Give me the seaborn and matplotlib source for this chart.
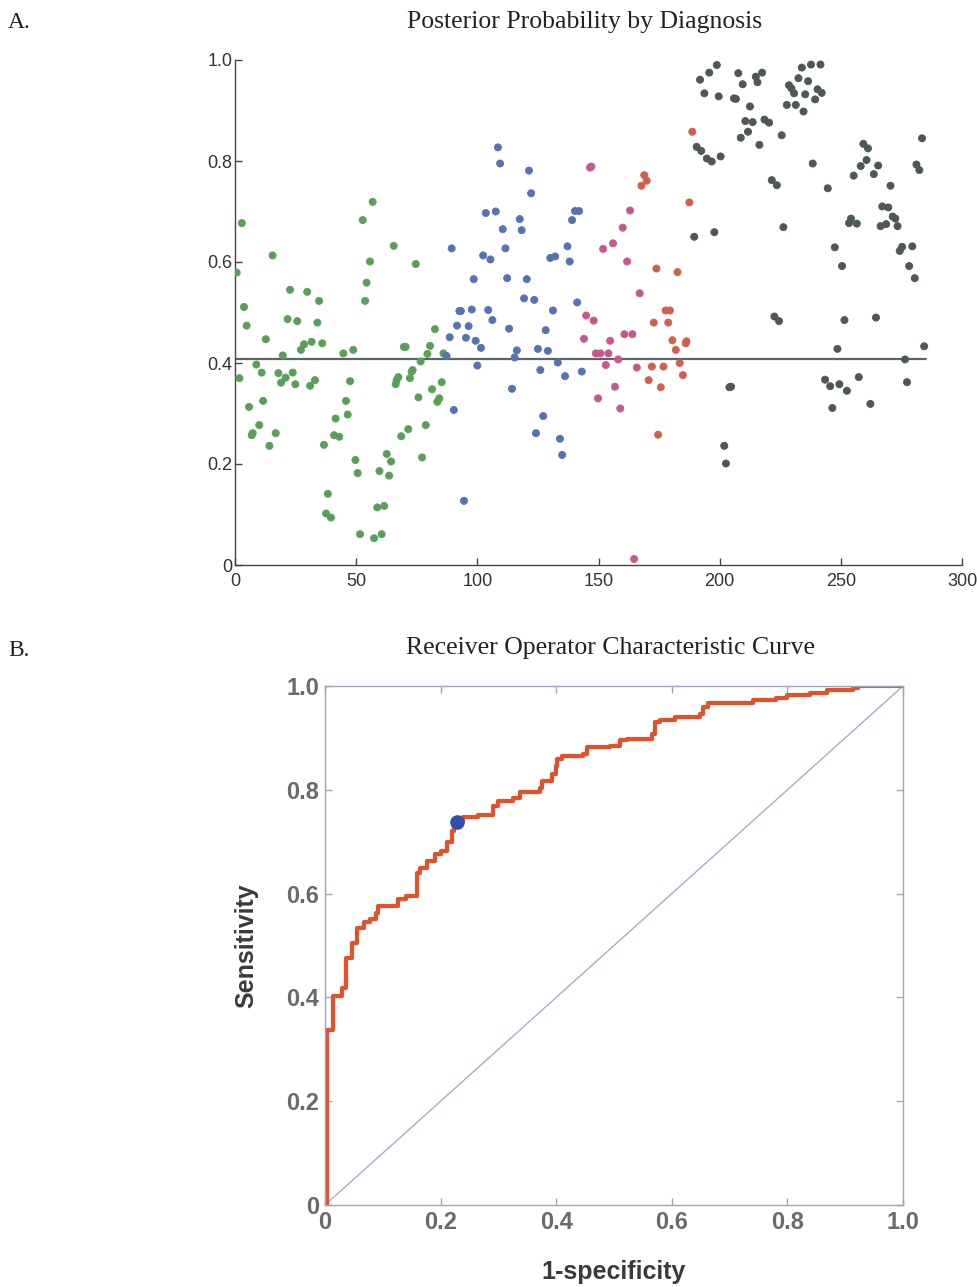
import numpy as np
import pandas as pd
import matplotlib
matplotlib.use("Agg")
import matplotlib.pyplot as plt
import seaborn as sns

# ---------------- Panel A data (patient index, posterior probability) ----------------
green_x = [2.8, 0.7, 15.5, 3.7, 4.8, 12.7, 22.7, 29.8, 34.7, 21.7, 25.7, 34, 31.6, 28.5, 27.2, 36, 19.7,
           1.8, 8.8, 11, 17.9, 19, 20.9, 23.8, 24.9, 31, 33, 5.8, 11.6, 10, 7.3, 6.9, 16.8, 14.2, 36.7,
           41.5, 45.8, 46.5, 47.5, 44.7, 48.8, 40.9, 43, 38.3, 37.6, 39.6, 49.7, 50.6, 51.6, 57.4, 60.5,
           58.7, 61.6, 59.6, 63.6, 62.6, 64.4, 56.8, 52.7, 55.7, 54.3, 53.7, 65.5, 74.6, 69.7, 70.4,
           66.7, 67.4, 66.3, 72.9, 73.3, 72.2, 76.6, 79.4, 80.5, 82.5, 86, 85.3, 81.3, 84.3, 83.5, 75.7,
           71.5, 68.6, 78.7, 77.2]
green_y = [0.677, 0.579, 0.613, 0.511, 0.474, 0.447, 0.545, 0.541, 0.523, 0.487, 0.483, 0.48, 0.442,
           0.437, 0.426, 0.439, 0.415, 0.370, 0.397, 0.381, 0.380, 0.361, 0.371, 0.381, 0.358, 0.355,
           0.366, 0.313, 0.325, 0.277, 0.261, 0.257, 0.261, 0.236, 0.238, 0.290, 0.325, 0.298, 0.364,
           0.419, 0.426, 0.257, 0.254, 0.141, 0.102, 0.094, 0.208, 0.182, 0.061, 0.053, 0.061, 0.114,
           0.117, 0.186, 0.177, 0.220, 0.205, 0.719, 0.683, 0.601, 0.559, 0.523, 0.632, 0.596, 0.432,
           0.432, 0.366, 0.372, 0.358, 0.383, 0.386, 0.370, 0.403, 0.418, 0.434, 0.467, 0.419, 0.362,
           0.348, 0.330, 0.323, 0.332, 0.269, 0.255, 0.277, 0.213]

blue_x = [87.3, 89.4, 98.5, 92.6, 93.2, 97.7, 91.6, 96.4, 88.6, 95.3, 99.3, 100, 90.3, 94.5,
          108.5, 109.4, 121.3, 122.2, 103.5, 107.6, 117.5, 110.5, 118.3, 140.3, 142, 139.1, 102.4,
          105.4, 111.6, 130.1, 132.1, 137.2, 138.1, 112.3, 120.4, 119.3, 123.5, 141.2, 131.2, 104.5,
          106.2, 113.1, 128.2, 101.5, 116.3, 115.4, 125, 129.1, 133.2, 126, 136.2, 143.1, 114.3,
          127.2, 124.2, 134.1, 135]
blue_y = [0.414, 0.627, 0.566, 0.503, 0.503, 0.506, 0.474, 0.473, 0.451, 0.450, 0.444, 0.395, 0.307,
          0.127, 0.827, 0.795, 0.781, 0.736, 0.697, 0.700, 0.685, 0.665, 0.663, 0.701, 0.701, 0.683,
          0.613, 0.605, 0.627, 0.608, 0.611, 0.631, 0.601, 0.568, 0.566, 0.528, 0.525, 0.520, 0.504,
          0.505, 0.485, 0.468, 0.465, 0.430, 0.425, 0.411, 0.428, 0.424, 0.401, 0.386, 0.374, 0.383,
          0.349, 0.295, 0.261, 0.250, 0.218]

pink_x = [146.5, 147, 163, 160, 151.9, 156, 161.8, 167, 144.9, 148, 144, 154.8, 160.7, 164, 148.9,
          150.8, 154.1, 158.1, 153, 165.8, 156.8, 149.8, 159, 164.7]
pink_y = [0.787, 0.789, 0.702, 0.668, 0.626, 0.637, 0.601, 0.538, 0.494, 0.484, 0.448, 0.444, 0.457,
          0.457, 0.419, 0.419, 0.419, 0.407, 0.396, 0.391, 0.353, 0.330, 0.310, 0.012]

red_x = [167.7, 168.9, 169.9, 187.5, 188.7, 173.9, 182.6, 177.7, 179.5, 172.8, 178.8, 180.5, 186.3,
         186, 181.9, 172, 176.8, 183.5, 184.8, 170.7, 175.7, 174.6]
red_y = [0.751, 0.772, 0.761, 0.718, 0.858, 0.587, 0.580, 0.504, 0.504, 0.480, 0.480, 0.445, 0.443,
         0.439, 0.426, 0.393, 0.393, 0.400, 0.376, 0.366, 0.352, 0.258]

dark_x = [189.5, 190.5, 198.8, 195.7, 191.9, 207.7, 209.5, 214.9, 217.5, 215.6, 193.7, 199.6, 205.9,
          206.7, 212.5, 210.6, 213.6, 211.7, 218.5, 220.4, 208.7, 216.4, 225.6, 233.9, 237.7, 241.6,
          232.5, 236.5, 228.6, 229.6, 230.7, 235.3, 240.4, 242.1, 239.4, 227.7, 231.4, 234.6, 192.4,
          194.7, 196.7, 200.4, 221.5, 223.6, 238.4, 244.6, 259.3, 261.2, 260.6, 265.4, 258.2, 263.6,
          255.3, 270.5, 283.5, 281.2, 282.4, 197.8, 226.3, 254.2, 256.6, 253.4, 267.1, 269.6, 271.4,
          272.5, 266.4, 268.7, 273.4, 247.5, 250.5, 275.3, 274.3, 279.5, 278.2, 280.5, 222.6, 224.5,
          251.5, 264.5, 248.6, 284.4, 276.5, 204, 204.7, 243.5, 245.6, 249.4, 252.5, 257.4, 262.2,
          246.5, 277.3, 201.9, 202.6]
dark_y = [0.650, 0.828, 0.990, 0.975, 0.961, 0.974, 0.952, 0.967, 0.975, 0.956, 0.934, 0.928, 0.924,
          0.923, 0.908, 0.879, 0.877, 0.858, 0.882, 0.876, 0.846, 0.832, 0.851, 0.985, 0.991, 0.991,
          0.964, 0.958, 0.950, 0.944, 0.934, 0.932, 0.942, 0.935, 0.922, 0.911, 0.911, 0.898, 0.820,
          0.805, 0.799, 0.809, 0.762, 0.752, 0.795, 0.746, 0.834, 0.825, 0.802, 0.791, 0.790, 0.774,
          0.771, 0.751, 0.845, 0.793, 0.782, 0.659, 0.669, 0.686, 0.676, 0.677, 0.710, 0.708, 0.690,
          0.686, 0.671, 0.675, 0.671, 0.629, 0.592, 0.630, 0.622, 0.631, 0.592, 0.568, 0.492, 0.483,
          0.485, 0.490, 0.428, 0.433, 0.407, 0.352, 0.353, 0.367, 0.354, 0.358, 0.345, 0.372, 0.319,
          0.311, 0.362, 0.236, 0.201]

threshold = 0.408
threshold_span = [0, 285]

x_ticks_a = [0, 50, 100, 150, 200, 250, 300]
y_ticks_a = [0, 0.2, 0.4, 0.6, 0.8, 1.0]
y_ticklabels_a = ["0", "0.2", "0.4", "0.6", "0.8", "1.0"]

# ---------------- Panel B data (ROC curve) ----------------
fpr = [0, 0.003, 0.014, 0.030, 0.037, 0.046, 0.055, 0.068, 0.078, 0.089, 0.092, 0.127, 0.140,
       0.159, 0.164, 0.176, 0.190, 0.200, 0.211, 0.219, 0.224, 0.239, 0.265, 0.291, 0.300, 0.326,
       0.337, 0.372, 0.375, 0.392, 0.400, 0.402, 0.410, 0.447, 0.453, 0.493, 0.510, 0.522, 0.565,
       0.571, 0.580, 0.606, 0.649, 0.654, 0.663, 0.741, 0.781, 0.799, 0.839, 0.868, 0.914, 0.923, 1.0]
tpr = [0, 0.338, 0.402, 0.419, 0.476, 0.505, 0.534, 0.545, 0.552, 0.563, 0.576, 0.589, 0.596,
       0.640, 0.650, 0.663, 0.676, 0.683, 0.700, 0.721, 0.737, 0.748, 0.751, 0.769, 0.779, 0.785,
       0.795, 0.804, 0.817, 0.830, 0.845, 0.859, 0.865, 0.869, 0.882, 0.885, 0.895, 0.898, 0.907,
       0.930, 0.935, 0.940, 0.946, 0.959, 0.967, 0.973, 0.977, 0.983, 0.987, 0.993, 0.997, 1.0, 1.0]
optimal_point = (0.228, 0.737)
roc_ticks = [0, 0.2, 0.4, 0.6, 0.8, 1.0]
roc_ticklabels = ["0", "0.2", "0.4", "0.6", "0.8", "1.0"]

# ---------------- Build figure ----------------
sns.set_theme(style="white")
plt.rcParams["font.family"] = ["Liberation Sans", "DejaVu Sans"]

fig = plt.figure(figsize=(9.77, 12.87), dpi=100)
fig.patch.set_facecolor("white")

groups = {
    "green": (green_x, green_y),
    "blue": (blue_x, blue_y),
    "pink": (pink_x, pink_y),
    "red": (red_x, red_y),
    "dark": (dark_x, dark_y),
}
palette = {"green": "#5a9f58", "blue": "#5573b3", "pink": "#c8568f",
           "red": "#d0604c", "dark": "#4d5756"}
df = pd.concat([pd.DataFrame({"index": gx, "prob": gy, "group": g})
                for g, (gx, gy) in groups.items()], ignore_index=True)

axA = fig.add_axes([235 / 977, 1 - 565 / 1287, 727 / 977, 505 / 1287])
sns.scatterplot(data=df, x="index", y="prob", hue="group", palette=palette, ax=axA,
                s=26, linewidth=0.6, edgecolor="face", legend=False, zorder=3)
axA.plot(threshold_span, [threshold, threshold], color="#5a6666", lw=1.6, zorder=2)
axA.set_xlim(0, 300)
axA.set_ylim(0, 1)
axA.set_xticks(x_ticks_a)
axA.set_xticklabels([str(t) for t in x_ticks_a])
axA.set_yticks(y_ticks_a)
axA.set_yticklabels(y_ticklabels_a)
axA.set_xlabel("")
axA.set_ylabel("")
for s in ["top", "right"]:
    axA.spines[s].set_visible(False)
for s in ["left", "bottom"]:
    axA.spines[s].set_color("#444444")
    axA.spines[s].set_linewidth(1.0)
axA.tick_params(direction="in", length=5, width=1, color="#444444", labelcolor="#333333",
                labelsize=13, left=True, bottom=True)
axA.tick_params(axis="x", pad=6)
axA.tick_params(axis="y", pad=2)

# ---------------- Panel B ----------------
axB = fig.add_axes([325 / 977, 1 - 1205 / 1287, 578 / 977, 519 / 1287])
axB.plot([0, 1], [0, 1], color="#9fb0cc", lw=1.0, zorder=1)
roc_df = pd.DataFrame({"fpr": fpr, "tpr": tpr})
sns.lineplot(data=roc_df, x="fpr", y="tpr", sort=False, estimator=None, ax=axB,
             color="#e4502a", lw=3.0, drawstyle="steps-post", zorder=2)
axB.scatter([optimal_point[0]], [optimal_point[1]], s=90, color="#2f4fa8", zorder=4,
            edgecolor="#2f4fa8")
axB.set_xlim(0, 1)
axB.set_ylim(0, 1)
axB.set_xticks(roc_ticks)
axB.set_xticklabels(roc_ticklabels)
axB.set_yticks(roc_ticks)
axB.set_yticklabels(roc_ticklabels)
for s in axB.spines.values():
    s.set_visible(True)
    s.set_color("#9aa6bc")
    s.set_linewidth(1.0)
axB.tick_params(direction="in", length=5, width=1, color="#9aa6bc", labelcolor="#6a6a6a",
                labelsize=17, top=True, right=True, left=True, bottom=True, pad=4)
for lab in axB.get_xticklabels() + axB.get_yticklabels():
    lab.set_fontweight("bold")
axB.set_xlabel("1-specificity", fontsize=18, color="#3a3a3a", labelpad=19, fontweight="bold")
axB.set_ylabel("Sensitivity", fontsize=18, color="#3a3a3a", labelpad=20, fontweight="bold")

# ---------------- Titles / panel labels ----------------
serif = ["Liberation Serif", "DejaVu Serif"]
fig.text(8 / 977, 1 - 22 / 1287, "A.", family=serif, fontsize=17, va="center", ha="left",
         color="#222222")
fig.text(585 / 977, 1 - 22 / 1287, "Posterior Probability by Diagnosis", family=serif,
         fontsize=18.5, va="center", ha="center", color="#222222")
fig.text(8 / 977, 1 - 650 / 1287, "B.", family=serif, fontsize=17, va="center", ha="left",
         color="#222222")
fig.text(611 / 977, 1 - 648 / 1287, "Receiver Operator Characteristic Curve", family=serif,
         fontsize=18.5, va="center", ha="center", color="#222222")

fig.savefig("out.png", dpi=100, facecolor="white")
